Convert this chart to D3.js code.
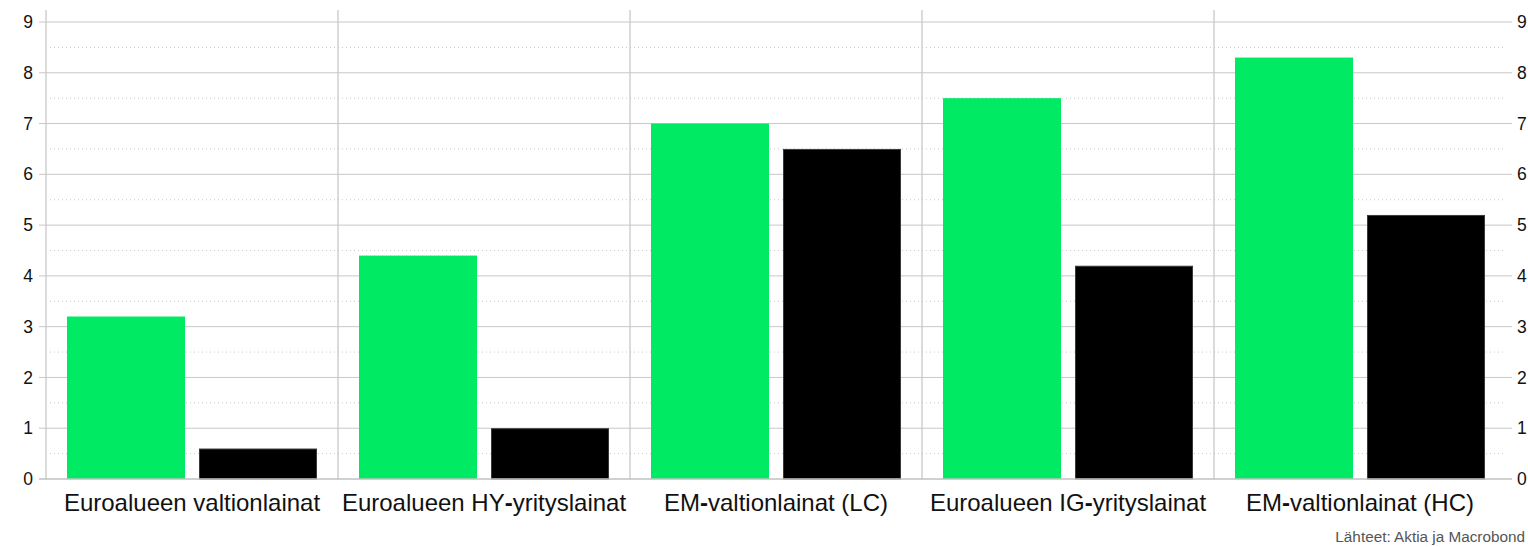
<!DOCTYPE html>
<html><head><meta charset="utf-8">
<script src="https://cdn.jsdelivr.net/npm/d3@7"></script>
<style>body{margin:0;background:#fff;font-family:"Liberation Sans",Arial,sans-serif}</style>
</head><body>
<svg id="c" width="1528" height="547"></svg>
<script>
const categories = ["Euroalueen valtionlainat","Euroalueen HY-yrityslainat","EM-valtionlainat (LC)","Euroalueen IG-yrityslainat","EM-valtionlainat (HC)"];
const seriesA = [3.2, 4.4, 7.0, 7.5, 8.3];
const seriesB = [0.6, 1.0, 6.5, 4.2, 5.2];
const yTicks = [0,1,2,3,4,5,6,7,8,9];
const halfTicks = [0.5,1.5,2.5,3.5,4.5,5.5,6.5,7.5,8.5];
const sourceText = "Lähteet: Aktia ja Macrobond";

const svg = d3.select("#c");
const L = 46, R = 1506, T = 10;
const y = d3.scaleLinear().domain([0,9]).range([479,22]);
const x = d3.scaleBand().domain(categories).range([L,R]).padding(0);
const xs = d3.scaleBand().domain(["a","b"]).range([0,x.bandwidth()]).paddingInner(0.106).paddingOuter(0.159);

// dotted half grid
svg.append("g").selectAll("line").data(halfTicks).join("line")
  .attr("x1",L+4).attr("x2",R-2).attr("y1",d=>y(d)).attr("y2",d=>y(d))
  .attr("stroke","#c8c8c8").attr("stroke-width",1).attr("stroke-dasharray","1,3");
// solid grid
svg.append("g").selectAll("line").data(yTicks.filter(d=>d>0)).join("line")
  .attr("x1",L-7).attr("x2",R+6).attr("y1",d=>y(d)).attr("y2",d=>y(d))
  .attr("stroke","#c8c8c8").attr("stroke-width",1);
// vertical separators
const seps = categories.slice(1).map(c=>x(c));
svg.append("g").selectAll("line").data([L].concat(seps)).join("line")
  .attr("x1",d=>d).attr("x2",d=>d).attr("y1",T).attr("y2",y(0))
  .attr("stroke","#c8c8c8").attr("stroke-width",1.3);

// bars
const g = svg.append("g").selectAll("g").data(categories).join("g").attr("transform",d=>`translate(${x(d)},0)`);
g.append("rect").attr("x",xs("a")).attr("width",xs.bandwidth())
  .attr("y",(d,i)=>y(seriesA[i])).attr("height",(d,i)=>y(0)-y(seriesA[i])).attr("fill","#00ea64");
g.append("rect").attr("x",xs("b")+0.5).attr("width",xs.bandwidth()-1)
  .attr("y",(d,i)=>y(seriesB[i])+0.5).attr("height",(d,i)=>y(0)-y(seriesB[i])-0.5).attr("fill","#000").attr("stroke","#3a3a3a").attr("stroke-width",1);

// baseline
svg.append("line").attr("x1",L-7).attr("x2",R+6).attr("y1",y(0)).attr("y2",y(0)).attr("stroke","#c0c0c0").attr("stroke-width",1.6);

// y labels
svg.append("g").selectAll("text").data(yTicks).join("text")
  .attr("x",33).attr("y",d=>y(d)).attr("dy","0.35em").attr("text-anchor","end")
  .attr("font-size",17.5).attr("fill","#111").text(d=>d);
svg.append("g").selectAll("text").data(yTicks).join("text")
  .attr("x",1517).attr("y",d=>y(d)).attr("dy","0.35em").attr("text-anchor","start")
  .attr("font-size",17.5).attr("fill","#111").text(d=>d);

// category labels (hyphen rendered heavier as in the reference)
svg.append("g").selectAll("text").data(categories).join("text")
  .attr("x",d=>x(d)+x.bandwidth()/2).attr("y",503).attr("dy","0.35em").attr("text-anchor","middle")
  .attr("font-size",24).attr("fill","#111")
  .each(function(d){
    const t = d3.select(this);
    const parts = d.split("-");
    parts.forEach((p,i)=>{
      if(i>0) t.append("tspan").attr("font-weight","bold").text("-");
      t.append("tspan").text(p);
    });
  });

svg.append("text").attr("x",1525).attr("y",537).attr("dy","0.35em").attr("text-anchor","end")
  .attr("font-size",15.3).attr("fill","#555").text(sourceText);
</script>
</body></html>
